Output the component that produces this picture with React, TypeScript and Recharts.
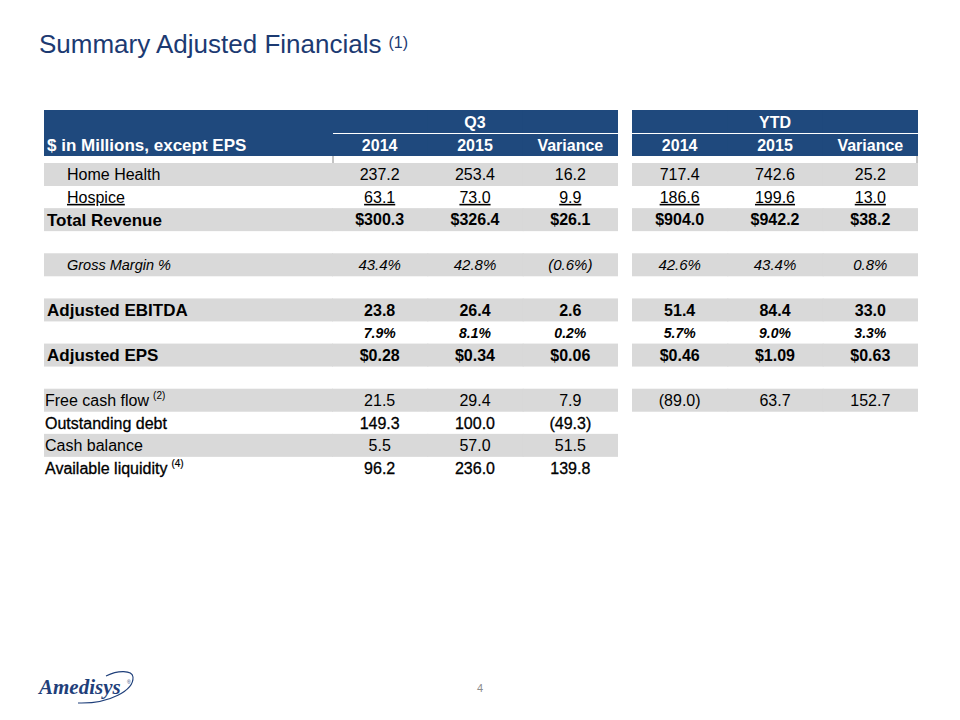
import React from 'react';
import { BarChart, Bar, XAxis, YAxis } from 'recharts';

// table content, row by row (null = empty cell)
const rowLabels = [
  'Home Health', 'Hospice', 'Total Revenue', '', 'Gross Margin %', '',
  'Adjusted EBITDA', '', 'Adjusted EPS', '', 'Free cash flow', 'Outstanding debt',
  'Cash balance', 'Available liquidity',
];
const labelNotes = ['', '', '', '', '', '', '', '', '', '', '(2)', '', '', '(4)'];
const q3Y2014 = [237.2, 63.1, 300.3, null, 43.4, null, 23.8, 7.9, 0.28, null, 21.5, 149.3, 5.5, 96.2];
const q3Y2015 = [253.4, 73.0, 326.4, null, 42.8, null, 26.4, 8.1, 0.34, null, 29.4, 100.0, 57.0, 236.0];
const q3Variance = [16.2, 9.9, 26.1, null, -0.6, null, 2.6, 0.2, 0.06, null, 7.9, -49.3, 51.5, 139.8];
const ytdY2014 = [717.4, 186.6, 904.0, null, 42.6, null, 51.4, 5.7, 0.46, null, -89.0, null, null, null];
const ytdY2015 = [742.6, 199.6, 942.2, null, 43.4, null, 84.4, 9.0, 1.09, null, 63.7, null, null, null];
const ytdVariance = [25.2, 13.0, 38.2, null, 0.8, null, 33.0, 3.3, 0.63, null, 152.7, null, null, null];
const rowFormats = ['num', 'num', 'usd', '', 'pct', '', 'num', 'pct', 'usd', '', 'num', 'num', 'num', 'num'];
const rowDecimals = [1, 1, 1, 0, 1, 0, 1, 1, 2, 0, 1, 1, 1, 1];
const rowStyles = [
  'indent', 'indentUnderline', 'bold', '', 'indentItalic', '', 'bold', 'boldItalic', 'bold', '',
  'plain', 'heavy', 'plain', 'heavy',
];
const shadedRows = [true, false, true, false, true, false, true, false, true, false, true, false, true, false];

const periodGroups = ['Q3', 'YTD'];
const columnHeads = ['2014', '2015', 'Variance'];
const headerLabel = '$ in Millions, except EPS';

const FONT = '"Liberation Sans", Arial, sans-serif';
const NAVY = '#1F497D';
const GREY = '#D9D9D9';

type Col = { id: string; w: number; kind: 'label' | 'value' | 'gap'; group?: number; idx?: number };
const COL_W = 286 / 3;
const COLS: Col[] = [
  { id: 'label', w: 288, kind: 'label' },
  { id: 'q0', w: COL_W, kind: 'value', group: 0, idx: 0 },
  { id: 'q1', w: COL_W, kind: 'value', group: 0, idx: 1 },
  { id: 'q2', w: COL_W, kind: 'value', group: 0, idx: 2 },
  { id: 'gap', w: 14, kind: 'gap' },
  { id: 'y0', w: COL_W, kind: 'value', group: 1, idx: 0 },
  { id: 'y1', w: COL_W, kind: 'value', group: 1, idx: 1 },
  { id: 'y2', w: COL_W, kind: 'value', group: 1, idx: 2 },
];
const TABLE_W = COLS.reduce((s, c) => s + c.w, 0);

const styleOf: Record<string, any> = {
  indent: { dx: 23, size: 16, vsize: 16, weight: 'normal', italic: false },
  indentUnderline: { dx: 23, size: 16, vsize: 16, weight: 'normal', italic: false, underline: true },
  bold: { dx: 3, size: 17, vsize: 16, weight: 'bold', italic: false },
  indentItalic: { dx: 23, size: 14.5, vsize: 15, weight: 'normal', italic: true },
  boldItalic: { dx: 3, size: 14, vsize: 14, weight: 'bold', italic: true },
  plain: { dx: 1, size: 16, vsize: 16, weight: 'normal', italic: false },
  heavy: { dx: 1, size: 16, vsize: 16, weight: 'normal', italic: false, heavy: true },
  '': { dx: 1, size: 16, vsize: 16, weight: 'normal', italic: false },
};

const fmt = (v: number | null, kind: string, dec: number) => {
  if (v == null) return '';
  let s = Math.abs(v).toFixed(dec);
  if (kind === 'usd') s = '$' + s;
  if (kind === 'pct') s = s + '%';
  return v < 0 ? `(${s})` : s;
};

const bodyRows = rowLabels.map((label, i) => ({
  key: 'r' + i,
  label,
  note: labelNotes[i],
  cells: [q3Y2014[i], q3Y2015[i], q3Variance[i], ytdY2014[i], ytdY2015[i], ytdVariance[i]],
  format: rowFormats[i],
  dec: rowDecimals[i],
  style: rowStyles[i],
  shaded: shadedRows[i],
}));

const headerRows = [{ key: 'h0', level: 0 }, { key: 'h1', level: 1 }];

// cells that sit left of a neighbour get a little overlap so no seams show
const ext = (col: Col) => (col.kind === 'label' || (col.idx as number) < 2 ? 1 : 0);

const bodyCell = (col: Col) => (props: any) => {
  const { x, y, width, height, payload } = props;
  const st = styleOf[payload.style];
  if (col.kind === 'gap') return <g />;
  const cy = y + height / 2;
  const textProps: any = {
    fontFamily: FONT,
    fontWeight: st.weight,
    fontStyle: st.italic ? 'italic' : 'normal',
    fill: '#000',
    style: st.underline ? { textDecoration: 'underline' } : undefined,
    stroke: st.heavy ? '#000' : undefined,
    strokeWidth: st.heavy ? 0.3 : undefined,
  };
  if (col.kind === 'label') {
    return (
      <g>
        {payload.shaded && <rect x={x} y={y} width={width + ext(col)} height={height} fill={GREY} />}
        {payload.label && (
          <text x={x + st.dx} y={cy + st.size * 0.36} fontSize={st.size} {...textProps}>
            {payload.label}
            {payload.note && (
              <tspan fontSize={10} dy={-7} dx={4} strokeWidth={st.heavy ? 0.2 : undefined}>{payload.note}</tspan>
            )}
          </text>
        )}
      </g>
    );
  }
  const ci = (col.group as number) * 3 + (col.idx as number);
  const v = payload.cells[ci];
  const hasYtd = payload.cells[3] != null;
  const fill = payload.shaded && (col.group === 0 || hasYtd);
  return (
    <g>
      {fill && <rect x={x} y={y} width={width + ext(col)} height={height} fill={GREY} />}
      <text x={x + width / 2} y={cy + st.vsize * 0.36} fontSize={st.vsize} textAnchor="middle" {...textProps}>
        {fmt(v, payload.format, payload.dec)}
      </text>
    </g>
  );
};

const headerCell = (col: Col) => (props: any) => {
  const { x, y, width, height, payload } = props;
  if (col.kind === 'gap') return <g />;
  const txt = { fontFamily: FONT, fontWeight: 'bold', fill: '#fff' } as any;
  if (col.kind === 'label') {
    return (
      <g>
        <rect x={x} y={y} width={width + 1} height={height + (payload.level === 0 ? 1 : 0)} fill={NAVY} />
        {payload.level === 1 && (
          <text x={x + 3} y={y + height / 2 + 6} fontSize={17} {...txt}>{headerLabel}</text>
        )}
      </g>
    );
  }
  const top = payload.level === 1 ? y + 1 : y;
  return (
    <g>
      <rect x={x} y={top} width={width + ext(col)} height={y + height - top} fill={NAVY} />
      {payload.level === 0 && col.idx === 1 && (
        <text x={x + width / 2} y={y + height / 2 + 6} fontSize={16} textAnchor="middle" {...txt}>
          {periodGroups[col.group as number]}
        </text>
      )}
      {payload.level === 1 && (
        <text x={x + width / 2} y={y + height / 2 + 6} fontSize={16} textAnchor="middle" {...txt}>
          {columnHeads[col.idx as number]}
        </text>
      )}
    </g>
  );
};

const TableChart = ({ data, height, cell }: { data: any[]; height: number; cell: (c: Col) => any }) => (
  <BarChart
    width={TABLE_W}
    height={height}
    data={data}
    layout="vertical"
    margin={{ top: 0, right: 0, bottom: 0, left: 0 }}
    barCategoryGap={0}
    barGap={0}
  >
    <XAxis type="number" hide domain={[0, TABLE_W]} />
    <YAxis type="category" dataKey="key" hide />
    {COLS.map((c) => (
      <Bar
        key={c.id}
        dataKey={() => c.w}
        stackId="row"
        isAnimationActive={false}
        shape={cell(c)}
      />
    ))}
  </BarChart>
);

export default function App() {
  return (
    <div style={{ position: 'absolute', left: 0, top: 0, width: 960, height: 720, background: '#fff', overflow: 'hidden' }}>
      <svg width={960} height={720} style={{ position: 'absolute', left: 0, top: 0 }}>
        <text x={39} y={53} fontFamily={FONT} fontSize={26} fill="#1C3A72">
          Summary Adjusted Financials
          <tspan fontSize={16} dx={7} dy={-5}>(1)</tspan>
        </text>
        <line x1={333} y1={156} x2={333} y2={163} stroke="#888" strokeWidth={1} />
        <line x1={917} y1={154} x2={917} y2={163} stroke="#888" strokeWidth={1} />
        {/* logo */}
        <text x={39} y={694} fontFamily='"Liberation Serif", "Times New Roman", serif' fontSize={21} fontWeight="bold" fontStyle="italic" fill="#1F3F7A">
          Amedisys
        </text>
        <text x={127} y={684} fontFamily={FONT} fontSize={5} fill="#1F3F7A">®</text>
        <path d="M 78 703 C 110 704 134 690 133 677 C 132 670 118 670 106 676" fill="none" stroke="#1F3F7A" strokeWidth={1.1} />
        <text x={480} y={692} fontFamily={FONT} fontSize={11} fill="#8C8C8C" textAnchor="middle">4</text>
      </svg>
      <div style={{ position: 'absolute', left: 44, top: 110 }}>
        <TableChart data={headerRows} height={46} cell={headerCell} />
      </div>
      <div style={{ position: 'absolute', left: 44, top: 163 }}>
        <TableChart data={bodyRows} height={316} cell={bodyCell} />
      </div>
    </div>
  );
}
